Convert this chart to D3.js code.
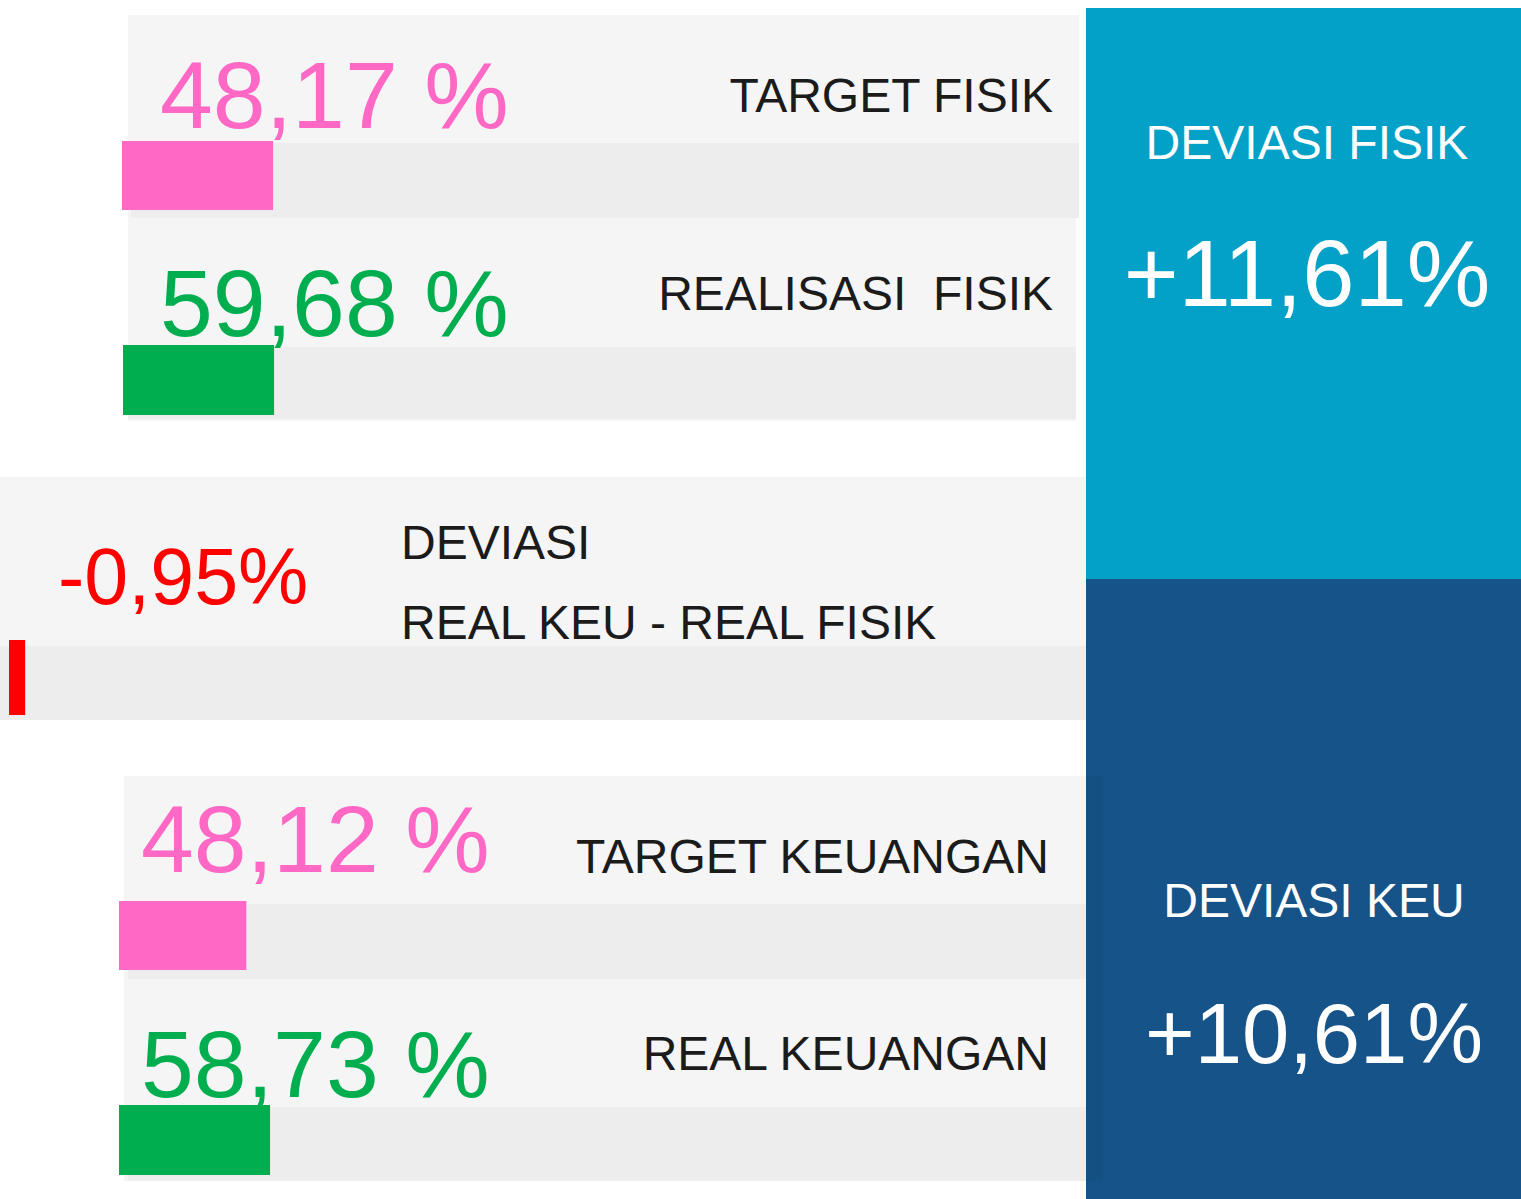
<!DOCTYPE html>
<html>
<head>
<meta charset="utf-8">
<script src="https://cdn.jsdelivr.net/npm/d3@7"></script>
<style>
  html, body { margin: 0; padding: 0; background: #fff; }
  svg { display: block; font-family: "Liberation Sans", Arial, Helvetica, sans-serif; }
  text { white-space: pre; }
</style>
</head>
<body>
<svg id="chart" width="1521" height="1199"></svg>
<script>
// values
const rowLabels = ["TARGET FISIK", "REALISASI  FISIK", "TARGET KEUANGAN", "REAL KEUANGAN"];
const rowValues = [48.17, 59.68, 48.12, 58.73];
const rowKinds = ["target", "real", "target", "real"];
// how far each progress bar is filled (percent of the track)
const rowFill = [15.9, 15.9, 13.4, 15.9];

const devLabels = ["DEVIASI", "REAL KEU - REAL FISIK"];
const devValue = -0.95;
const devFill = 1.7;

const sideTitles = ["DEVIASI FISIK", "DEVIASI KEU"];
const sideValues = [11.61, 10.61];

// layout
const colors = {
    target: "#ff69c5",
    real: "#00ae4f",
    neg: "#ff0000",
    panel: "#f5f5f5",
    track: "#ededed",
    ink: "#1b1b1b",
    side: ["#03a1c7", "#165388"]
};

const rowLayout = [
    { panelX: 128, panelY: 15, panelW: 951, panelH: 203, trackX: 131, trackY: 143, trackW: 948, trackH: 75, barX: 122, barY: 141, barH: 69, numX: 160, numY: 128, labX: 1053, labY: 112 },
    { panelX: 128, panelY: 218, panelW: 948, panelH: 203, trackX: 128, trackY: 347, trackW: 948, trackH: 72, barX: 123, barY: 345, barH: 70, numX: 160, numY: 336, labX: 1053, labY: 310 },
    { panelX: 124, panelY: 776, panelW: 979, panelH: 203, trackX: 128, trackY: 904, trackW: 975, trackH: 75, barX: 119, barY: 901, barH: 69, numX: 141, numY: 872, labX: 1049, labY: 873 },
    { panelX: 124, panelY: 979, panelW: 979, panelH: 202, trackX: 128, trackY: 1107, trackW: 975, trackH: 74, barX: 119, barY: 1105, barH: 70, numX: 141, numY: 1097, labX: 1049, labY: 1070 }
];

const sideLayout = [
    { x: 1086, y: 8, w: 435, h: 571, cx: 1307, titleY: 159, valueY: 306, valueSize: 94 },
    { x: 1086, y: 579, w: 435, h: 620, cx: 1314, titleY: 917, valueY: 1063, valueSize: 85 }
];

const locale = d3.formatLocale({ decimal: ",", thousands: ".", grouping: [3], currency: ["", ""], minus: "-" });
const fmt = locale.format(".2f");
const fmtSigned = locale.format("+.2f");

const svg = d3.select("#chart");

// bar length scale, percent of track -> pixels
const x = d3.scaleLinear().domain([0, 100]).range([0, 950]);

// rows
const rows = svg.selectAll("g.row")
    .data(rowValues.map((v, i) => ({ value: v, label: rowLabels[i], kind: rowKinds[i], fill: rowFill[i], lay: rowLayout[i] })))
    .enter().append("g")
    .attr("class", "row");

rows.append("rect")
    .attr("x", d => d.lay.panelX).attr("y", d => d.lay.panelY)
    .attr("width", d => d.lay.panelW).attr("height", d => d.lay.panelH)
    .attr("fill", colors.panel);

rows.append("rect")
    .attr("x", d => d.lay.trackX).attr("y", d => d.lay.trackY)
    .attr("width", d => d.lay.trackW).attr("height", d => d.lay.trackH)
    .attr("fill", colors.track);

rows.append("text")
    .attr("x", d => d.lay.numX).attr("y", d => d.lay.numY)
    .attr("font-size", 95)
    .attr("fill", d => colors[d.kind])
    .text(d => fmt(d.value) + " %");

rows.append("rect")
    .attr("x", d => d.lay.barX).attr("y", d => d.lay.barY)
    .attr("width", d => x(d.fill)).attr("height", d => d.lay.barH)
    .attr("fill", d => colors[d.kind]);

rows.append("text")
    .attr("x", d => d.lay.labX).attr("y", d => d.lay.labY)
    .attr("text-anchor", "end")
    .attr("font-size", 48)
    .attr("fill", colors.ink)
    .text(d => d.label);

// deviation row (real keu - real fisik)
const dev = svg.append("g").attr("class", "deviation");
dev.append("rect").attr("x", 0).attr("y", 477).attr("width", 1086).attr("height", 243).attr("fill", colors.panel);
dev.append("rect").attr("x", 0).attr("y", 646).attr("width", 1086).attr("height", 74).attr("fill", colors.track);
dev.append("rect").attr("x", 9).attr("y", 640).attr("width", x(devFill)).attr("height", 75).attr("fill", colors.neg);
dev.append("text").attr("x", 58).attr("y", 604).attr("font-size", 79).attr("fill", colors.neg)
    .text(fmt(devValue) + "%");
dev.selectAll("text.lab").data(devLabels).enter().append("text")
    .attr("class", "lab")
    .attr("x", 401).attr("y", (d, i) => 559 + i * 80)
    .attr("font-size", 48).attr("fill", colors.ink)
    .text(d => d);

// side panels
const side = svg.selectAll("g.side")
    .data(sideValues.map((v, i) => ({ value: v, title: sideTitles[i], lay: sideLayout[i], color: colors.side[i] })))
    .enter().append("g")
    .attr("class", "side");

side.append("rect")
    .attr("x", d => d.lay.x).attr("y", d => d.lay.y)
    .attr("width", d => d.lay.w).attr("height", d => d.lay.h)
    .attr("fill", d => d.color);

side.append("text")
    .attr("x", d => d.lay.cx).attr("y", d => d.lay.titleY)
    .attr("text-anchor", "middle").attr("font-size", 48).attr("fill", "#fff")
    .text(d => d.title);

side.append("text")
    .attr("x", d => d.lay.cx).attr("y", d => d.lay.valueY)
    .attr("text-anchor", "middle").attr("font-size", d => d.lay.valueSize).attr("fill", "#fff")
    .text(d => fmtSigned(d.value) + "%");

// the keuangan panels show faintly through the dark blue box
svg.append("rect").attr("x", 1086).attr("y", 776).attr("width", 17).attr("height", 405)
    .attr("fill", "#000").attr("opacity", 0.03);
</script>
</body>
</html>
